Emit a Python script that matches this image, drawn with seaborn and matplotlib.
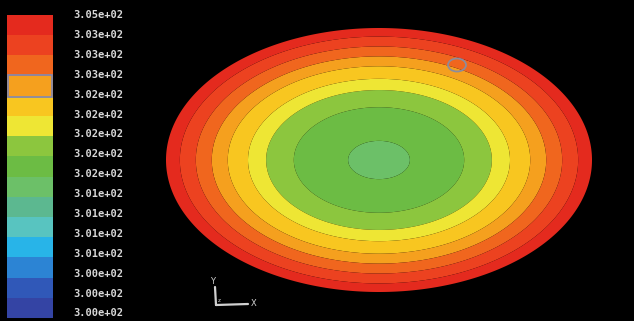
import numpy as np
import matplotlib
matplotlib.use("Agg")
import matplotlib.pyplot as plt
from matplotlib.colors import ListedColormap
from matplotlib.patches import Ellipse, Rectangle
import seaborn as sns

# ---- data ----
legend_labels = ["3.05e+02", "3.03e+02", "3.03e+02", "3.03e+02", "3.02e+02",
                 "3.02e+02", "3.02e+02", "3.02e+02", "3.02e+02", "3.01e+02",
                 "3.01e+02", "3.01e+02", "3.01e+02", "3.00e+02", "3.00e+02",
                 "3.00e+02"]
band_colors = ["#e42a1e", "#ec4220", "#f0661e", "#f5a01e", "#f8c620",
               "#eee634", "#8cc63e", "#6cbc44", "#6cc068", "#5cb890",
               "#58c4c0", "#28b4e8", "#2c84d4", "#3058b8", "#3444a4"]
# normalised elliptic radii of the contour ring boundaries (centre -> edge)
ring_radius = [0.0, 0.145, 0.40, 0.53, 0.615, 0.71, 0.785, 0.86, 0.935, 1.0]
# legend band shown in each ring (centre -> edge)
ring_band = [8, 7, 6, 5, 4, 3, 2, 1, 0]
highlight_band = 3

W, H = 634, 321
sns.set_style("dark", {"axes.facecolor": "black", "figure.facecolor": "black"})
fig = plt.figure(figsize=(W / 100, H / 100), dpi=100, facecolor="black")

# main field
ax = fig.add_axes([0, 0, 1, 1])
ax.set_facecolor("black")
ax.set_xlim(0, W)
ax.set_ylim(H, 0)
ax.axis("off")

cx, cy, a, b = 379, 160, 213, 132
xs = np.linspace(0, W, 900)
ys = np.linspace(0, H, 460)
X, Y = np.meshgrid(xs, ys)
R = np.sqrt(((X - cx) / a) ** 2 + ((Y - cy) / b) ** 2)
ring_cols = [band_colors[i] for i in ring_band]
ax.contourf(X, Y, R, levels=ring_radius, colors=ring_cols, antialiased=True)

# small grey circle
ax.add_patch(Ellipse((457, 65), 18, 13, fill=False, edgecolor="#8c8c9c", lw=1.3))

# axes triad
tri = "#d0d0d0"
ax.plot([216, 215], [305, 287], color=tri, lw=1.6)
ax.plot([216, 248], [305, 304], color=tri, lw=1.6)
ax.text(213, 281, "Y", color=tri, fontsize=6, ha="center", va="center")
ax.text(254, 303, "X", color=tri, fontsize=6, ha="center", va="center")
ax.text(219, 300, "z", color=tri, fontsize=4, ha="center", va="center")

# colour legend
top, bot = 15, 318
lax = fig.add_axes([7 / W, (H - bot) / H, 46 / W, (bot - top) / H])
data = np.arange(len(band_colors)).reshape(-1, 1)
sns.heatmap(data, ax=lax, cmap=ListedColormap(sns.color_palette(band_colors)),
            vmin=-0.5, vmax=len(band_colors) - 0.5, cbar=False,
            xticklabels=False, yticklabels=False)
lax.add_patch(Rectangle((0.03, highlight_band - 0.05), 0.94, 1.1, fill=False,
                        edgecolor="#8888a8", lw=1.3, clip_on=False))

step = 19.9
for i, lab in enumerate(legend_labels):
    yy = top + step * i
    fig.text(73 / W, 1 - yy / H, lab, color="#d8d8d8", fontsize=7.5,
             family="DejaVu Sans Mono", weight="bold", ha="left", va="center")

fig.savefig("out.png", dpi=100, facecolor="black")
